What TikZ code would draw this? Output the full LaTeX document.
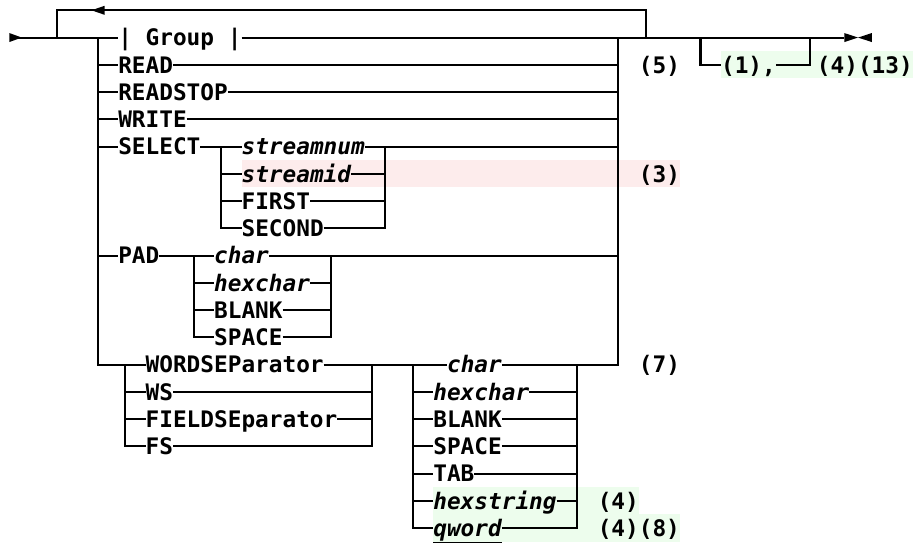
\documentclass[tikz,border=0pt]{standalone}
\usepackage{fontspec}
\newfontfamily\dvm{DejaVu Sans Mono}
\definecolor{hlpink}{RGB}{253,236,236}
\definecolor{hlgreen}{RGB}{237,253,237}
\begin{document}
\begin{tikzpicture}[
  rr/.style={line width=2.1pt, line join=miter, line cap=butt},
  kw/.style={inner sep=0pt, outer sep=0pt, anchor=west, text height=16.6pt, text depth=0pt,
             font=\dvm\bfseries\fontsize{22.75pt}{27pt}\selectfont},
  var/.style={kw, font=\dvm\bfseries\itshape\fontsize{22.75pt}{27pt}\selectfont},
  tri/.style={fill=black, draw=none}
]
\useasboundingbox (0pt,0pt) rectangle (917pt,-546pt);
\begin{scope}[shift={(15.5pt,-10.3pt)}, x=13.7pt, y=-27.25pt]
% highlights
\fill[hlpink] (16.5,5.5) rectangle (48.5,6.5);
\fill[hlgreen] (51.5,1.5) rectangle (65.5,2.5);
\fill[hlgreen] (30.5,17.5) rectangle (45.5,18.5);
\fill[hlgreen] (30.5,18.5) rectangle (48.5,19.5);

% text nodes
\node[kw] (group) at (7.5,1) {| Group |};
\node[kw] (read) at (7.5,2) {READ};
\node[kw] (readstop) at (7.5,3) {READSTOP};
\node[kw] (write) at (7.5,4) {WRITE};
\node[kw] (select) at (7.5,5) {SELECT};
\node[var] (snum) at (16.5,5) {streamnum};
\node[var] (sid) at (16.5,6) {streamid};
\node[kw] (first) at (16.5,7) {FIRST};
\node[kw] (second) at (16.5,8) {SECOND};
\node[kw] (pad) at (7.5,9) {PAD};
\node[var] (pchar) at (14.5,9) {char};
\node[var] (phex) at (14.5,10) {hexchar};
\node[kw] (pblank) at (14.5,11) {BLANK};
\node[kw] (pspace) at (14.5,12) {SPACE};
\node[kw] (wsep) at (9.5,13) {WORDSEParator};
\node[kw] (ws) at (9.5,14) {WS};
\node[kw] (fsep) at (9.5,15) {FIELDSEparator};
\node[kw] (fs) at (9.5,16) {FS};
\node[var] (wchar) at (31.5,13) {char};
\node[var] (whex) at (30.5,14) {hexchar};
\node[kw] (wblank) at (30.5,15) {BLANK};
\node[kw] (wspace) at (30.5,16) {SPACE};
\node[kw] (wtab) at (30.5,17) {TAB};
\node[var] (whexs) at (30.5,18) {hexstring};
\node[var] (wq) at (30.5,19) {\underline{qword}};
\node[kw] (n5) at (45.5,2) {(5)};
\node[kw] (n1) at (51.5,2) {(1),};
\node[kw] (n413) at (58.5,2) {(4)(13)};
\node[kw] (n3) at (45.5,6) {(3)};
\node[kw] (n7) at (45.5,13) {(7)};
\node[kw] (n4) at (42.5,18) {(4)};
\node[kw] (n48) at (42.5,19) {(4)(8)};

% junction coordinates
\coordinate (start) at (0,1);
\coordinate (endA) at (60.5,1);
\coordinate (loopL) at (3,1);
\coordinate (loopLt) at (3,0);
\coordinate (loopR) at (46,1);
\coordinate (loopRt) at (46,0);
\coordinate (lbT) at (6,1);
\coordinate (lbB) at (6,13);
\coordinate (rbT) at (44,1);
\coordinate (rbB) at (44,13);
\foreach \r in {2,3,4,5,9} {\coordinate (lb\r) at (6,\r); \coordinate (rb\r) at (44,\r);}
\foreach \r in {5,6,7,8} {\coordinate (sl\r) at (15,\r); \coordinate (sr\r) at (27,\r);}
\foreach \r in {9,10,11,12} {\coordinate (pl\r) at (13,\r); \coordinate (pr\r) at (23,\r);}
\foreach \r in {13,14,15,16} {\coordinate (wl\r) at (8,\r); \coordinate (wr\r) at (26,\r);}
\foreach \r in {13,...,19} {\coordinate (cl\r) at (29,\r); \coordinate (cr\r) at (41,\r);}
\coordinate (rep1) at (50,1);
\coordinate (rep2) at (50,2);
\coordinate (repE2) at (58,2);
\coordinate (repE1) at (58,1);

% main line and return loop
\draw[rr] (start) -- (group.west);
\draw[rr] (group.east) -- (endA);
\draw[rr] (loopL) -- (loopLt) -- (loopRt) -- (loopR);
\draw[rr] (rep1) -- (rep2) -- (n1.west);
\draw[rr] (n1.east) -- (repE2) -- (repE1);

% outer brackets
\draw[rr] (lbT) -- (lbB) -- (wsep.west);
\draw[rr] (rbT) -- (rbB) -- (cr13);
\draw[rr] (lb2) -- (read.west);
\draw[rr] (lb3) -- (readstop.west);
\draw[rr] (lb4) -- (write.west);
\draw[rr] (lb5) -- (select.west);
\draw[rr] (lb9) -- (pad.west);
\draw[rr] (read.east) -- (rb2);
\draw[rr] (readstop.east) -- (rb3);
\draw[rr] (write.east) -- (rb4);

% SELECT
\draw[rr] (select.east) -- (snum.west);
\draw[rr] (sl5) -- (sl8) -- (second.west);
\draw[rr] (sl6) -- (sid.west);
\draw[rr] (sl7) -- (first.west);
\draw[rr] (snum.east) -- (rb5);
\draw[rr] (second.east) -- (sr8) -- (sr5);
\draw[rr] (sid.east) -- (sr6);
\draw[rr] (first.east) -- (sr7);

% PAD
\draw[rr] (pad.east) -- (pchar.west);
\draw[rr] (pl9) -- (pl12) -- (pspace.west);
\draw[rr] (pl10) -- (phex.west);
\draw[rr] (pl11) -- (pblank.west);
\draw[rr] (pchar.east) -- (rb9);
\draw[rr] (pspace.east) -- (pr12) -- (pr9);
\draw[rr] (phex.east) -- (pr10);
\draw[rr] (pblank.east) -- (pr11);

% separators
\draw[rr] (wl13) -- (wl16) -- (fs.west);
\draw[rr] (wl14) -- (ws.west);
\draw[rr] (wl15) -- (fsep.west);
\draw[rr] (wsep.east) -- (wchar.west);
\draw[rr] (fs.east) -- (wr16) -- (wr13);
\draw[rr] (ws.east) -- (wr14);
\draw[rr] (fsep.east) -- (wr15);

% separator characters
\draw[rr] (cl13) -- (cl19) -- (wq.west);
\draw[rr] (cl14) -- (whex.west);
\draw[rr] (cl15) -- (wblank.west);
\draw[rr] (cl16) -- (wspace.west);
\draw[rr] (cl17) -- (wtab.west);
\draw[rr] (cl18) -- (whexs.west);
\draw[rr] (wchar.east) -- (cr13);
\draw[rr] (wq.east) -- (cr19) -- (cr13);
\draw[rr] (whex.east) -- (cr14);
\draw[rr] (wblank.east) -- (cr15);
\draw[rr] (wspace.east) -- (cr16);
\draw[rr] (wtab.east) -- (cr17);
\draw[rr] (whexs.east) -- (cr18);

% arrowheads
\coordinate (sa) at (-0.45,1);
\coordinate (ra) at (5.55,0);
\coordinate (ea) at (60.5,1);
\coordinate (eb) at (61.5,1);
\fill[tri] (sa) -- ++(0pt,4.5pt) -- ++(12.4pt,-4.5pt) -- ++(-12.4pt,-4.5pt) -- cycle;
\fill[tri] (ra) -- ++(13pt,4.5pt) -- ++(0pt,-9pt) -- cycle;
\fill[tri] (ea) -- ++(0pt,4.5pt) -- ++(13.7pt,-4.5pt) -- ++(-13.7pt,-4.5pt) -- cycle;
\fill[tri] (eb) -- ++(13.7pt,4.5pt) -- ++(0pt,-9pt) -- cycle;
\end{scope}
\end{tikzpicture}
\end{document}
